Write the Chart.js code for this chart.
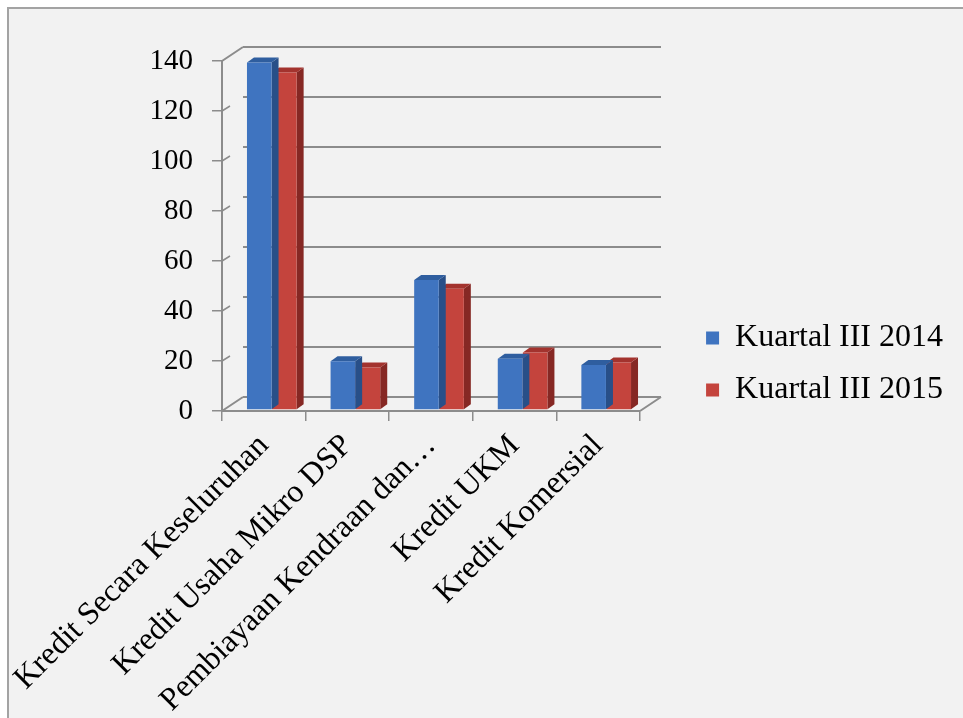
<!DOCTYPE html>
<html><head><meta charset="utf-8">
<script src="https://cdn.jsdelivr.net/npm/chart.js@4/dist/chart.umd.min.js"></script>
<style>
html,body{margin:0;padding:0;background:#fff;overflow:hidden;width:963px;height:718px;}
#frame{position:absolute;left:7px;top:7px;width:970px;height:720px;border-left:2px solid #a3a3a3;border-top:2px solid #a3a3a3;background:#f2f2f2;}
#c{position:absolute;left:0;top:0;}
</style></head><body>
<div id="frame"></div>
<canvas id="c" width="963" height="718"></canvas>
<script>
// ---- data ----
const categories = ['Kredit Secara Keseluruhan', 'Kredit Usaha Mikro DSP', 'Pembiayaan Kendraan dan\u2026', 'Kredit UKM', 'Kredit Komersial'];
const seriesNames = ['Kuartal III 2014', 'Kuartal III 2015'];
const kuartal2014 = [139, 19.5, 52, 20.5, 18];
const kuartal2015 = [135, 17, 48.5, 23, 19];
const yTickValues = [0, 20, 40, 60, 80, 100, 120, 140];

// ---- style ----
const FACE = [
  {front: '#3f74c0', top: '#2f5e9f', side: '#284f88'},
  {front: '#c4443d', top: '#a3332e', side: '#862824'}
];
const D = {wallDx: 21, wallDy: 14, barDx: 7, barDy: 5, shiftX: 8, shiftY: -1};
const GRID = '#8c8c8c';
const LEGEND_FONT = {size: 32, family: "'Liberation Serif', serif"};
const LEGEND_PAD = 20, LEGEND_BOX = 13, RIGHT_MARGIN = 20, LEGEND_BOTTOM_CUT = 51;

Chart.defaults.font.family = "'Liberation Serif', 'Times New Roman', serif";
Chart.defaults.color = '#000';

const depthPlugin = {
  id: 'depth3d',
  afterLayout(chart) {
    const lg = chart.legend;
    if (!lg) return;
    const ctx = chart.ctx;
    ctx.save();
    ctx.font = LEGEND_FONT.size + 'px ' + LEGEND_FONT.family;
    const tw = Math.max(...seriesNames.map(s => ctx.measureText(s).width));
    ctx.restore();
    const w = LEGEND_PAD + LEGEND_BOX + LEGEND_FONT.size / 2 + tw;
    lg.right = chart.width - RIGHT_MARGIN;
    lg.left = lg.right - w;
    lg.width = w;
    lg.bottom = lg.bottom - LEGEND_BOTTOM_CUT;
    lg.height = lg.bottom - lg.top;
  },
  beforeDatasetsDraw(chart) {
    const {ctx, chartArea: a, scales: {y}} = chart;
    ctx.save();
    ctx.strokeStyle = GRID;
    ctx.lineWidth = 2;
    ctx.beginPath();
    y.ticks.forEach(t => {
      const py = y.getPixelForValue(t.value) - D.wallDy;
      ctx.moveTo(a.left + D.wallDx, py);
      ctx.lineTo(a.right + D.wallDx, py);
    });
    const y0 = y.getPixelForValue(0), yT = y.getPixelForValue(y.max);
    ctx.moveTo(a.left, y0); ctx.lineTo(a.left + D.wallDx, y0 - D.wallDy);
    ctx.moveTo(a.right, y0); ctx.lineTo(a.right + D.wallDx, y0 - D.wallDy);
    ctx.moveTo(a.left, yT); ctx.lineTo(a.left + D.wallDx, yT - D.wallDy);
    ctx.stroke();
    ctx.lineWidth = 1.5;
    ctx.beginPath();
    y.ticks.forEach(t => {
      const py = y.getPixelForValue(t.value);
      if (t.value === 0 || t.value === y.max) return;
      ctx.moveTo(a.left, py); ctx.lineTo(a.left + 8, py - 5);
    });
    ctx.stroke();
    ctx.restore();
  },
  beforeDatasetDraw(chart, args) {
    const ctx = chart.ctx;
    ctx.save();
    ctx.translate(D.shiftX, D.shiftY);
    const f = FACE[args.index];
    args.meta.data.forEach(bar => {
      const p = bar.getProps(['x', 'y', 'base', 'width'], true);
      const l = p.x - p.width / 2, r = p.x + p.width / 2;
      ctx.fillStyle = f.side;
      ctx.beginPath();
      ctx.moveTo(r, p.y); ctx.lineTo(r + D.barDx, p.y - D.barDy);
      ctx.lineTo(r + D.barDx, p.base - D.barDy); ctx.lineTo(r, p.base);
      ctx.closePath(); ctx.fill();
      ctx.fillStyle = f.top;
      ctx.beginPath();
      ctx.moveTo(l, p.y); ctx.lineTo(l + D.barDx, p.y - D.barDy);
      ctx.lineTo(r + D.barDx, p.y - D.barDy); ctx.lineTo(r, p.y);
      ctx.closePath(); ctx.fill();
    });
  },
  afterDatasetDraw(chart) {
    chart.ctx.restore();
  }
};

new Chart(document.getElementById('c'), {
  type: 'bar',
  data: {
    labels: categories,
    datasets: [
      {label: seriesNames[0], data: kuartal2014, backgroundColor: FACE[0].front, borderWidth: 0},
      {label: seriesNames[1], data: kuartal2015, backgroundColor: FACE[1].front, borderWidth: 0}
    ]
  },
  options: {
    responsive: false,
    animation: false,
    devicePixelRatio: 1,
    layout: {padding: {top: 61, bottom: 0, left: 0, right: RIGHT_MARGIN}},
    datasets: {bar: {categoryPercentage: 0.6, barPercentage: 0.98}},
    plugins: {
      tooltip: {enabled: false},
      legend: {
        position: 'right',
        maxWidth: 500,
        labels: {boxWidth: LEGEND_BOX, boxHeight: LEGEND_BOX, padding: LEGEND_PAD, color: '#000',
                 font: LEGEND_FONT}
      }
    },
    scales: {
      x: {
        grid: {drawOnChartArea: false, color: GRID, lineWidth: 1.5, tickLength: 10},
        border: {display: true, color: GRID, width: 2},
        ticks: {maxRotation: 45, minRotation: 45, autoSkip: false, padding: 6, color: '#000',
                font: {size: 32}},
        afterFit(s) { s.height = 307; s.paddingLeft = 0; s.paddingRight = 323; }
      },
      y: {
        min: 0, max: 140,
        afterBuildTicks(s) { s.ticks = yTickValues.map(v => ({value: v})); },
        grid: {drawOnChartArea: false, color: GRID, lineWidth: 1.5, tickLength: 10},
        border: {display: true, color: GRID, width: 2},
        ticks: {padding: 19, color: '#000', font: {size: 29}},
        afterFit(s) { s.width = 222; s.paddingTop = 0; s.paddingBottom = 0; }
      }
    }
  },
  plugins: [depthPlugin]
});
</script>
</body></html>
